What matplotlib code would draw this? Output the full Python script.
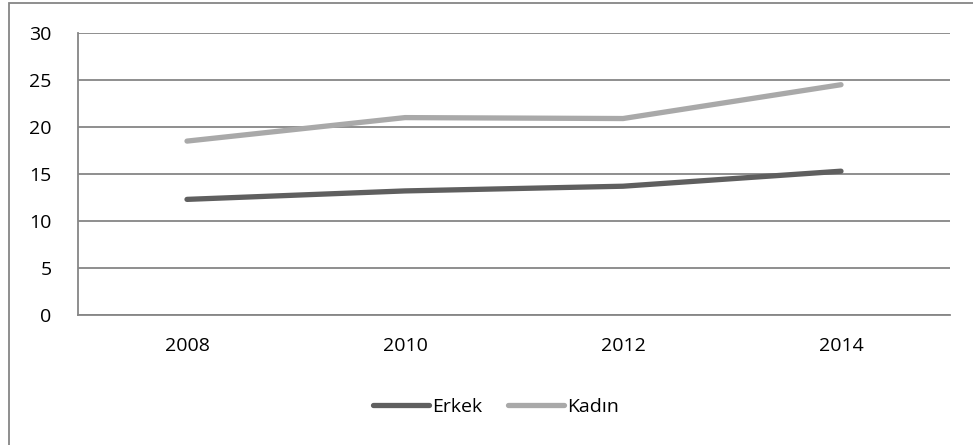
import matplotlib.pyplot as plt
from matplotlib.patches import Rectangle

years = ["2008", "2010", "2012", "2014"]
erkek = [12.3, 13.2, 13.7, 15.3]
kadin = [18.5, 21.0, 20.9, 24.5]

W, H = 973, 445
fig = plt.figure(figsize=(W / 100, H / 100), dpi=100)
plt.rcParams['font.family'] = ['Open Sans', 'DejaVu Sans']

# outer chart border (runs off the right/bottom edge like the reference)
fig.patches.append(Rectangle((8.5 / W, -0.1), 2, 1 - 3.5 / H + 0.1, transform=fig.transFigure,
                             fill=False, edgecolor='#868686', linewidth=1.3))

ax = fig.add_axes([78 / W, 1 - 315 / H, (950 - 78) / W, (315 - 33) / H])
x = [i + 0.5 for i in range(len(years))]
ax.plot(x, erkek, color='#5f5f5f', linewidth=3.8, solid_capstyle='round', label='Erkek')
ax.plot(x, kadin, color='#a9a9a9', linewidth=3.8, solid_capstyle='round', label='Kadın')

ax.set_xlim(0, 4)
ax.set_ylim(0, 30)
ax.set_yticks(range(0, 31, 5))
ax.set_xticks(x)
ax.set_xticklabels(years)
ax.grid(axis='y', color='#868686', linewidth=1.3)
ax.set_axisbelow(True)
for s in ['top', 'right']:
    ax.spines[s].set_visible(False)
for s in ['left', 'bottom']:
    ax.spines[s].set_color('#868686')
    ax.spines[s].set_linewidth(1.3)
ax.tick_params(length=0, labelsize=14, colors='black')
ax.tick_params(axis='y', pad=19)
ax.tick_params(axis='x', pad=16)

fig.legend(loc='center', bbox_to_anchor=(496 / W, 1 - 407 / H), ncol=2, frameon=False,
           fontsize=14, handlelength=2.9, handletextpad=0.15, columnspacing=1.3)

fig.savefig('out.png', dpi=100)
